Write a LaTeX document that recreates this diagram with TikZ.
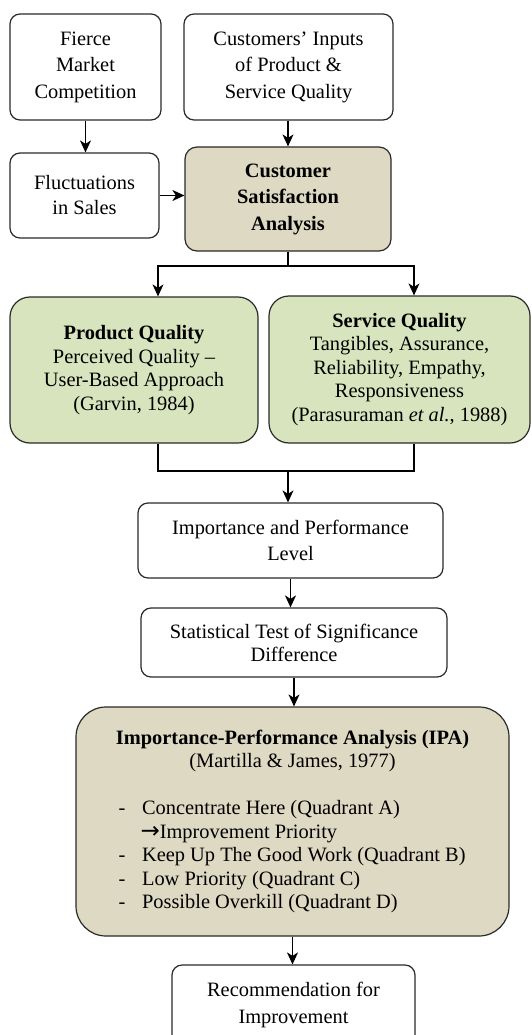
\documentclass[tikz,border=0pt]{standalone}
\usepackage{fontspec}
\setmainfont{Liberation Serif}
\newfontfamily\arrowfont{DejaVu Sans}
\usetikzlibrary{arrows.meta}
\definecolor{tanfill}{HTML}{DDD9C3}
\definecolor{olivefill}{HTML}{D7E4BD}
\definecolor{edge}{HTML}{2A2A2A}
\newcommand{\fsA}{\fontsize{20.4}{26.5}\selectfont}
\newcommand{\fsB}{\fontsize{20.4}{23.5}\selectfont}
\begin{document}
\begin{tikzpicture}[x=1pt,y=-1pt,
  box/.style={draw=edge, line width=1.2pt, rounded corners=10pt, align=center,
    inner sep=0pt, fill=white, font=\fsA},
  tanbox/.style={box, fill=tanfill},
  greenbox/.style={box, fill=olivefill, rounded corners=20pt, font=\fsB},
  arr/.style={draw=black, line width=1.2pt, -{Stealth[length=12pt,width=11pt,inset=3.5pt]}},
  conn/.style={draw=black, line width=1.2pt}
]
\useasboundingbox (0,0) rectangle (531,1035);

\node[box, minimum width=151pt, minimum height=106pt] (fierce) at (85.5,67)
  {Fierce\\Market\\Competition};
\node[box, minimum width=209pt, minimum height=106pt] (inputs) at (288.5,67)
  {Customers’ Inputs\\of Product \&\\Service Quality};
\node[box, minimum width=149pt, minimum height=85pt, font=\fontsize{20.4}{25}\selectfont] (fluct) at (84.5,195.5)
  {Fluctuations\\in Sales};
\node[tanbox, rounded corners=12pt, minimum width=206pt, minimum height=104pt, font=\fsA\bfseries] (csa) at (288,199)
  {Customer\\Satisfaction\\Analysis};

\node[greenbox, minimum width=248pt, minimum height=146pt] (pq) at (134,370)
  {\textbf{Product Quality}\\Perceived Quality –\\User-Based Approach\\(Garvin, 1984)};
\node[greenbox, minimum width=261pt, minimum height=147pt] (sq) at (399.5,369.5)
  {\textbf{Service Quality}\\Tangibles, Assurance,\\Reliability, Empathy,\\Responsiveness\\(Parasuraman \textit{et al.}, 1988)};

\node[box, minimum width=305pt, minimum height=75pt] (ipl) at (290.5,540.5)
  {Importance and Performance\\Level};
\node[box, minimum width=306pt, minimum height=69pt, font=\fontsize{20.4}{23}\selectfont] (stsd) at (294,642.5)
  {Statistical Test of Significance\\Difference};

\node[tanbox, rounded corners=30pt, minimum width=433pt, minimum height=229pt, font=\fsB] (ipa) at (292.5,821.5)
  {\begin{minipage}{356pt}\fsB
   \centering\textbf{Importance-Performance Analysis (IPA)}\\
   (Martilla \& James, 1977)\\[23.5pt]
   \raggedright
   \hspace*{4pt}\makebox[23.6pt][l]{-}Concentrate Here (Quadrant A)\\
   \hspace*{26pt}{\arrowfont\fontsize{23}{23.5}\selectfont →}Improvement Priority\\
   \hspace*{4pt}\makebox[23.6pt][l]{-}Keep Up The Good Work (Quadrant B)\\
   \hspace*{4pt}\makebox[23.6pt][l]{-}Low Priority (Quadrant C)\\
   \hspace*{4pt}\makebox[23.6pt][l]{-}Possible Overkill (Quadrant D)
   \end{minipage}};

\node[box, minimum width=243pt, minimum height=80pt] (rec) at (293.5,1005)
  {Recommendation for\\Improvement};

\coordinate (sL) at (158,266);
\coordinate (sR) at (414,266);
\coordinate (mL) at (158,471);
\coordinate (mR) at (414,471);

\draw[arr] (fierce.south) -- (fierce.south |- fluct.north);
\draw[arr] (inputs.south -| csa.north) -- (csa.north);
\draw[arr] (fluct.east) -- (fluct.east -| csa.west);

\draw[arr] (csa.south) |- (sL) -- (sL |- pq.north);
\draw[arr] (csa.south) |- (sR) -- (sR |- sq.north);

\draw[conn] (mL |- pq.south) -- (mL) -- (mR) -- (mR |- sq.south);
\draw[arr] (csa.south |- mL) -- (csa.south |- ipl.north);

\draw[arr] (ipl.south) -- (ipl.south |- stsd.north);
\draw[arr] (stsd.south) -- (stsd.south |- ipa.north);
\draw[arr] (ipa.south) -- (ipa.south |- rec.north);
\end{tikzpicture}
\end{document}
